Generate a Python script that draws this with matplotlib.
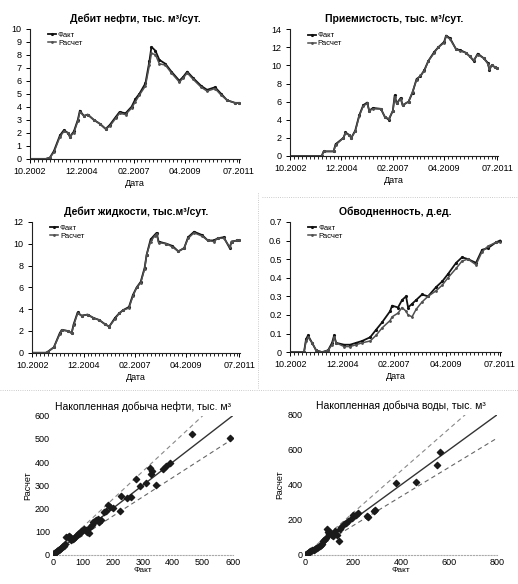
import numpy as np
import pandas as pd
import matplotlib
matplotlib.use("Agg")
import matplotlib.pyplot as plt
import matplotlib.dates as mdates
from matplotlib.lines import Line2D

plt.rcParams['font.family'] = ['Liberation Sans', 'DejaVu Sans']

# --- oil rate, thousand m3/day ---
oil_dates = ["2002-10", "2003-06", "2003-08", "2003-10", "2004-01", "2004-03", "2004-05",
             "2004-06", "2004-08", "2004-10", "2004-11", "2005-01", "2005-03", "2005-06",
             "2005-09", "2005-12", "2006-02", "2006-05", "2006-07", "2006-10", "2007-01",
             "2007-03", "2007-05", "2007-08", "2007-10", "2007-11", "2008-01", "2008-03",
             "2008-06", "2008-09", "2009-01", "2009-03", "2009-05", "2009-08", "2009-12",
             "2010-03", "2010-07", "2010-10", "2011-01", "2011-05", "2011-07"]
oil_fact = [0, 0, 0.1, 0.6, 1.8, 2.2, 2.0, 1.7, 2.1, 3.0, 3.7, 3.3, 3.4, 3.0, 2.7, 2.3,
            2.6, 3.2, 3.6, 3.5, 4.0, 4.6, 5.0, 5.8, 7.5, 8.6, 8.3, 7.6, 7.3, 6.7, 6.0, 6.3,
            6.7, 6.2, 5.6, 5.3, 5.5, 5.0, 4.5, 4.3, 4.3]
oil_calc = [0, 0, 0.1, 0.5, 1.7, 2.1, 2.0, 1.7, 2.0, 2.9, 3.6, 3.3, 3.4, 3.0, 2.7, 2.3,
            2.5, 3.1, 3.5, 3.4, 3.9, 4.4, 4.9, 5.6, 7.2, 8.1, 8.0, 7.3, 7.2, 6.6, 5.9, 6.2,
            6.6, 6.1, 5.5, 5.2, 5.4, 4.9, 4.5, 4.3, 4.3]

# --- injection rate, thousand m3/day ---
inj_dates = ["2002-10", "2004-02", "2004-03", "2004-08", "2004-09", "2005-01", "2005-02",
             "2005-04", "2005-05", "2005-07", "2005-09", "2005-11", "2006-01", "2006-02",
             "2006-04", "2006-08", "2006-10", "2006-12", "2007-02", "2007-03", "2007-04",
             "2007-06", "2007-07", "2007-10", "2007-12", "2008-02", "2008-04", "2008-06",
             "2008-08", "2008-11", "2009-01", "2009-04", "2009-05", "2009-07", "2009-10",
             "2009-12", "2010-03", "2010-05", "2010-07", "2010-09", "2010-12", "2011-02",
             "2011-03", "2011-04", "2011-06", "2011-07"]
inj_fact = [0, 0, 0.5, 0.5, 1.3, 2.0, 2.6, 2.3, 2.0, 2.8, 4.5, 5.6, 5.9, 5.0, 5.3, 5.2,
            4.3, 4.0, 5.0, 6.7, 5.8, 6.4, 5.6, 6.0, 7.0, 8.5, 8.8, 9.5, 10.5, 11.5, 12.0,
            12.6, 13.3, 13.0, 11.8, 11.7, 11.4, 11.0, 10.5, 11.3, 10.8, 10.3, 9.5, 10.0,
            9.8, 9.7]
inj_calc = [0, 0, 0.5, 0.5, 1.2, 2.0, 2.5, 2.3, 2.0, 2.7, 4.4, 5.5, 5.8, 5.0, 5.2, 5.2,
            4.3, 4.1, 5.0, 6.5, 5.8, 6.3, 5.6, 6.0, 7.1, 8.4, 8.9, 9.4, 10.5, 11.4, 12.0,
            12.5, 13.2, 12.9, 11.8, 11.6, 11.4, 11.0, 10.6, 11.2, 10.8, 10.2, 9.6, 10.0,
            9.8, 9.7]

# --- liquid rate, thousand m3/day ---
liq_dates = ["2002-10", "2003-05", "2003-06", "2003-09", "2003-12", "2004-01", "2004-04",
             "2004-06", "2004-07", "2004-09", "2004-11", "2005-02", "2005-05", "2005-08",
             "2005-11", "2006-01", "2006-04", "2006-06", "2006-08", "2006-11", "2007-01",
             "2007-03", "2007-05", "2007-07", "2007-08", "2007-10", "2007-12", "2008-01",
             "2008-02", "2008-06", "2008-09", "2008-12", "2009-03", "2009-05", "2009-08",
             "2009-12", "2010-03", "2010-06", "2010-08", "2010-11", "2011-02", "2011-03",
             "2011-06", "2011-07"]
liq_fact = [0, 0, 0.1, 0.5, 1.8, 2.1, 2.0, 1.8, 2.6, 3.7, 3.4, 3.5, 3.2, 3.0, 2.6, 2.4,
            3.2, 3.6, 3.9, 4.2, 5.3, 6.0, 6.5, 7.8, 9.0, 10.4, 10.8, 11.0, 10.2, 10.0, 9.8,
            9.3, 9.6, 10.6, 11.1, 10.8, 10.3, 10.3, 10.5, 10.6, 9.6, 10.2, 10.3, 10.3]
liq_calc = [0, 0, 0.1, 0.5, 1.7, 2.1, 2.0, 1.8, 2.5, 3.6, 3.4, 3.5, 3.2, 3.0, 2.6, 2.4,
            3.1, 3.6, 3.9, 4.1, 5.2, 6.0, 6.4, 7.7, 9.0, 10.2, 10.7, 10.9, 10.1, 10.0, 9.7,
            9.3, 9.6, 10.5, 11.0, 10.7, 10.3, 10.2, 10.5, 10.5, 9.7, 10.2, 10.3, 10.3]

# --- water cut, fraction ---
wc_dates = ["2002-10", "2003-05", "2003-06", "2003-07", "2003-09", "2003-11", "2004-02",
            "2004-05", "2004-07", "2004-08", "2004-09", "2005-01", "2005-04", "2005-07",
            "2005-10", "2006-02", "2006-05", "2006-08", "2006-12", "2007-01", "2007-04",
            "2007-06", "2007-08", "2007-09", "2007-11", "2008-01", "2008-04", "2008-07",
            "2008-11", "2009-02", "2009-05", "2009-09", "2009-12", "2010-03", "2010-07",
            "2010-10", "2011-01", "2011-05", "2011-07"]
wc_fact = [0, 0, 0.07, 0.09, 0.05, 0.01, 0.0, 0.01, 0.05, 0.09, 0.05, 0.04, 0.04, 0.05,
           0.06, 0.08, 0.12, 0.16, 0.22, 0.25, 0.24, 0.28, 0.30, 0.24, 0.26, 0.28, 0.31,
           0.30, 0.35, 0.38, 0.42, 0.48, 0.51, 0.50, 0.48, 0.55, 0.56, 0.59, 0.60]
wc_calc = [0, 0, 0.06, 0.08, 0.05, 0.01, 0.0, 0.01, 0.04, 0.08, 0.05, 0.03, 0.03, 0.04,
           0.05, 0.06, 0.09, 0.13, 0.17, 0.19, 0.21, 0.24, 0.22, 0.20, 0.19, 0.23, 0.27,
           0.30, 0.33, 0.36, 0.40, 0.45, 0.49, 0.50, 0.47, 0.54, 0.57, 0.59, 0.59]

# --- cumulative oil, thousand m3: fact vs calc ---
cum_oil_fact = [2, 5, 8, 12, 15, 18, 22, 25, 28, 32, 35, 38, 42, 45, 50, 55, 58, 62, 66,
                70, 75, 80, 85, 90, 95, 100, 105, 110, 115, 120, 125, 130, 135, 140, 145,
                150, 155, 160, 170, 178, 185, 192, 200, 223, 229, 247, 262, 277, 290, 310,
                323, 329, 331, 346, 368, 379, 390, 466, 590]
cum_oil_calc = [2, 6, 9, 11, 16, 20, 21, 27, 30, 33, 36, 40, 46, 75, 78, 80, 76, 66, 70,
                72, 78, 85, 90, 95, 102, 108, 112, 105, 100, 95, 118, 128, 140, 145, 150,
                155, 140, 150, 185, 190, 215, 205, 200, 190, 252, 245, 250, 328, 298, 311,
                376, 350, 360, 303, 369, 383, 396, 520, 506]

# --- cumulative water, thousand m3: fact vs calc ---
cum_wat_fact = [0, 3, 6, 10, 14, 18, 22, 26, 30, 35, 40, 45, 50, 55, 60, 65, 70, 75, 80,
                88, 90, 95, 100, 104, 110, 115, 120, 125, 132, 140, 145, 150, 160, 170,
                180, 194, 200, 210, 220, 257, 263, 285, 292, 379, 461, 551, 562]
cum_wat_calc = [0, 2, 5, 8, 12, 15, 20, 22, 28, 30, 33, 40, 38, 45, 50, 55, 62, 76, 85,
                95, 148, 130, 120, 130, 115, 105, 125, 135, 112, 76, 150, 160, 175, 180,
                195, 211, 225, 230, 240, 220, 216, 250, 256, 410, 415, 512, 585]

tick_dates = ["2002-10-01", "2004-12-01", "2007-02-01", "2009-04-01", "2011-07-01"]
tick_labels = ["10.2002", "12.2004", "02.2007", "04.2009", "07.2011"]

fig = plt.figure(figsize=(5.18, 5.84), dpi=100)


def time_panel(rect, title, dates, fact, calc, ymax, ystep, fmt):
    ax = fig.add_axes(rect)
    d = pd.to_datetime(dates)
    ax.plot(d, fact, color='#111111', lw=1.3, marker='.', ms=2.5, label='Факт')
    ax.plot(d, calc, color='#505050', lw=1.1, marker='.', ms=2.0, label='Расчет')
    ax.set_xlim(pd.Timestamp("2002-10-01"), pd.Timestamp("2011-07-15"))
    ax.set_ylim(0, ymax)
    yt = np.arange(0, ymax + ystep / 2, ystep)
    ax.set_yticks(yt)
    ax.set_yticklabels([fmt(v) for v in yt])
    ax.set_xticks(pd.to_datetime(tick_dates))
    ax.set_xticklabels(tick_labels)
    ax.xaxis.set_minor_locator(mdates.MonthLocator(interval=2))
    for s in ('top', 'right'):
        ax.spines[s].set_visible(False)
    for s in ('left', 'bottom'):
        ax.spines[s].set_linewidth(0.8)
        ax.spines[s].set_color('#222222')
    ax.tick_params(labelsize=6.5, length=3, width=0.7, pad=3)
    ax.tick_params(which='minor', length=2, width=0.6)
    ax.set_title(title, fontsize=7.5, fontweight='bold', pad=5)
    ax.set_xlabel('Дата', fontsize=6.5, labelpad=2)
    ax.legend(loc='upper left', bbox_to_anchor=(0.06, 1.02), fontsize=5.5, frameon=False,
              handlelength=1.0, handletextpad=0.3, labelspacing=0.1, borderpad=0.2)
    return ax


def scatter_panel(rect, title, xs, ys, lim, step):
    ax = fig.add_axes(rect)
    ax.scatter(xs, ys, marker='D', s=10, color='#1a1a1a', zorder=3)
    edge = np.array([0, lim])
    ax.plot(edge, edge, color='#333333', lw=1.0)
    ax.plot(edge / 1.2, edge, color='#888888', lw=0.8, ls=(0, (4, 3)))
    ax.plot(edge, edge / 1.2, color='#666666', lw=0.8, ls=(0, (4, 3)))
    ax.set_xlim(0, lim)
    ax.set_ylim(0, lim)
    ax.set_xticks(np.arange(0, lim + 1, step))
    ax.set_yticks(np.arange(0, lim + 1, step))
    for s in ('top', 'right', 'left'):
        ax.spines[s].set_visible(False)
    ax.spines['bottom'].set_color('#aaaaaa')
    ax.spines['bottom'].set_linestyle(':')
    ax.tick_params(labelsize=6.5, length=0, pad=2)
    ax.set_title(title, fontsize=7.5, pad=4)
    ax.set_xlabel('Факт', fontsize=6, labelpad=0)
    ax.set_ylabel('Расчет', fontsize=6.5, labelpad=2)
    return ax


time_panel([0.058, 0.728, 0.405, 0.223], 'Дебит нефти, тыс. м³/сут.',
           oil_dates, oil_fact, oil_calc, 10, 1, lambda v: f"{v:.0f}")
time_panel([0.560, 0.733, 0.402, 0.217], 'Приемистость, тыс. м³/сут.',
           inj_dates, inj_fact, inj_calc, 14, 2, lambda v: f"{v:.0f}")
time_panel([0.062, 0.396, 0.402, 0.224], 'Дебит жидкости, тыс.м³/сут.',
           liq_dates, liq_fact, liq_calc, 12, 2, lambda v: f"{v:.0f}")
time_panel([0.560, 0.397, 0.407, 0.223], 'Обводненность, д.ед.',
           wc_dates, wc_fact, wc_calc, 0.7, 0.1,
           lambda v: "0" if abs(v) < 1e-9 else f"{v:.1f}")

scatter_panel([0.102, 0.050, 0.347, 0.238], 'Накопленная добыча нефти, тыс. м³',
              cum_oil_fact, cum_oil_calc, 600, 100)
scatter_panel([0.589, 0.050, 0.371, 0.240], 'Накопленная добыча воды, тыс. м³',
              cum_wat_fact, cum_wat_calc, 800, 200)

# faint chart-area borders between blocks
for xs, ys in [((0.505, 1.0), (0.662, 0.662)), ((0.0, 1.0), (0.332, 0.332)),
               ((0.498, 0.498), (0.335, 0.672))]:
    fig.add_artist(Line2D(xs, ys, transform=fig.transFigure, color='#bbbbbb',
                          lw=0.6, ls=':'))

fig.savefig('out.png', dpi=100)
